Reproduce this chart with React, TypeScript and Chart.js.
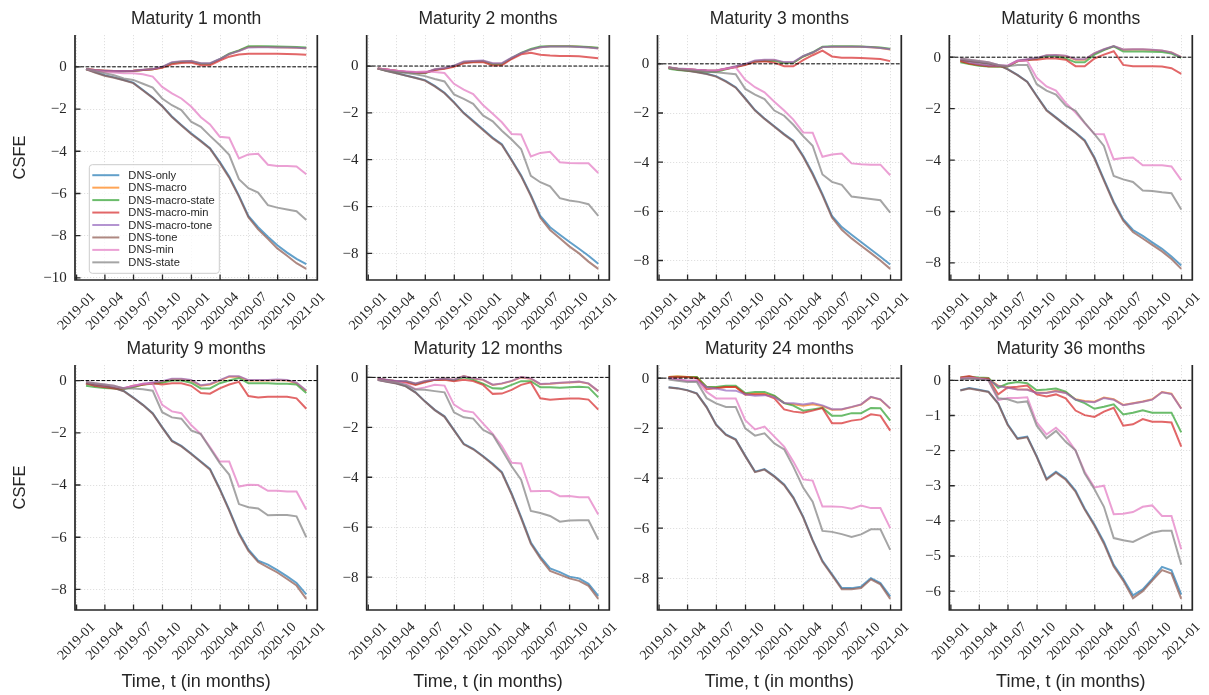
import React, { useEffect, useRef } from "react";
import { Chart, registerables } from "chart.js";

Chart.register(...registerables);

const W = 1209;
const H = 695;

// ---------- categories / labels ----------
const MONTHS = [
  "2019-01", "2019-02", "2019-03", "2019-04", "2019-05", "2019-06",
  "2019-07", "2019-08", "2019-09", "2019-10", "2019-11", "2019-12",
  "2020-01", "2020-02", "2020-03", "2020-04", "2020-05", "2020-06",
  "2020-07", "2020-08", "2020-09", "2020-10", "2020-11", "2020-12",
];
const X_TICK_LABELS = [
  "2019-01", "2019-04", "2019-07", "2019-10", "2020-01",
  "2020-04", "2020-07", "2020-10", "2021-01",
];
const SERIES_NAMES = [
  "DNS-only", "DNS-macro", "DNS-macro-state", "DNS-macro-min",
  "DNS-macro-tone", "DNS-tone", "DNS-min", "DNS-state",
];
const SERIES_COLORS = [
  "#1f77b4", "#ff7f0e", "#2ca02c", "#d62728",
  "#9467bd", "#8c564b", "#e377c2", "#7f7f7f",
];
const PANEL_TITLES = [
  "Maturity 1 month", "Maturity 2 months", "Maturity 3 months", "Maturity 6 months",
  "Maturity 9 months", "Maturity 12 months", "Maturity 24 months", "Maturity 36 months",
];
const Y_STEPS = [2, 2, 2, 2, 2, 2, 2, 1];

// ---------- data: maturity 1 month ----------
const M01_ONLY = [-0.1, -0.25, -0.4, -0.5, -0.62, -0.75, -1.1, -1.45, -1.85, -2.35, -2.75, -3.15, -3.5, -3.85, -4.5, -5.2, -6.1, -7.06, -7.6, -8.05, -8.45, -8.8, -9.1, -9.35];
const M01_MACRO = [-0.1, -0.15, -0.18, -0.2, -0.2, -0.19, -0.15, -0.12, -0.02, 0.2, 0.25, 0.27, 0.16, 0.15, 0.35, 0.6, 0.76, 0.94, 0.95, 0.94, 0.93, 0.92, 0.9, 0.88];
const M01_MACRO_STATE = [-0.12, -0.17, -0.2, -0.22, -0.22, -0.2, -0.15, -0.12, -0.02, 0.18, 0.23, 0.25, 0.15, 0.15, 0.36, 0.62, 0.78, 0.98, 0.98, 0.97, 0.96, 0.95, 0.94, 0.92];
const M01_MACRO_MIN = [-0.1, -0.15, -0.18, -0.2, -0.2, -0.19, -0.15, -0.12, -0.04, 0.12, 0.18, 0.2, 0.08, 0.08, 0.3, 0.48, 0.58, 0.62, 0.62, 0.62, 0.62, 0.61, 0.6, 0.57];
const M01_MACRO_TONE = [-0.1, -0.15, -0.18, -0.2, -0.2, -0.19, -0.14, -0.1, 0.0, 0.22, 0.27, 0.28, 0.17, 0.17, 0.37, 0.6, 0.75, 0.92, 0.93, 0.93, 0.92, 0.91, 0.9, 0.88];
const M01_TONE = [-0.12, -0.27, -0.42, -0.52, -0.64, -0.77, -1.12, -1.47, -1.87, -2.38, -2.78, -3.18, -3.53, -3.88, -4.55, -5.25, -6.15, -7.12, -7.7, -8.15, -8.6, -8.95, -9.3, -9.57];
const M01_MIN = [-0.1, -0.2, -0.25, -0.27, -0.3, -0.3, -0.35, -0.46, -0.95, -1.26, -1.5, -1.88, -2.39, -2.73, -3.31, -3.36, -4.34, -4.15, -4.12, -4.64, -4.7, -4.7, -4.72, -5.09];
const M01_STATE = [-0.1, -0.2, -0.3, -0.4, -0.55, -0.62, -0.8, -0.98, -1.5, -1.82, -2.05, -2.6, -2.84, -3.27, -3.7, -4.17, -5.32, -5.75, -5.96, -6.55, -6.67, -6.76, -6.84, -7.25];

// ---------- data: maturity 2 months ----------
const M02_ONLY = [-0.1, -0.2, -0.3, -0.4, -0.5, -0.6, -0.85, -1.14, -1.54, -2.0, -2.34, -2.7, -3.06, -3.34, -4.0, -4.66, -5.5, -6.4, -6.88, -7.2, -7.5, -7.8, -8.1, -8.44];
const M02_MACRO = [-0.1, -0.15, -0.2, -0.25, -0.28, -0.29, -0.15, -0.1, 0.0, 0.17, 0.2, 0.22, 0.1, 0.1, 0.34, 0.54, 0.7, 0.8, 0.84, 0.84, 0.84, 0.82, 0.8, 0.76];
const M02_MACRO_STATE = [-0.12, -0.17, -0.22, -0.27, -0.3, -0.31, -0.16, -0.1, 0.0, 0.15, 0.18, 0.2, 0.08, 0.08, 0.34, 0.56, 0.73, 0.83, 0.85, 0.85, 0.85, 0.83, 0.81, 0.78];
const M02_MACRO_MIN = [-0.1, -0.15, -0.2, -0.25, -0.28, -0.29, -0.17, -0.12, -0.03, 0.12, 0.16, 0.17, 0.02, 0.03, 0.3, 0.5, 0.57, 0.48, 0.45, 0.43, 0.43, 0.42, 0.38, 0.33];
const M02_MACRO_TONE = [-0.1, -0.15, -0.2, -0.24, -0.27, -0.28, -0.14, -0.08, 0.02, 0.19, 0.22, 0.24, 0.12, 0.12, 0.36, 0.55, 0.7, 0.8, 0.83, 0.83, 0.83, 0.81, 0.79, 0.75];
const M02_TONE = [-0.11, -0.21, -0.31, -0.41, -0.51, -0.62, -0.87, -1.16, -1.56, -2.02, -2.37, -2.73, -3.09, -3.37, -4.03, -4.7, -5.55, -6.48, -7.0, -7.35, -7.7, -8.0, -8.35, -8.66];
const M02_MIN = [-0.1, -0.15, -0.2, -0.22, -0.25, -0.23, -0.25, -0.3, -0.76, -1.01, -1.2, -1.66, -2.04, -2.4, -2.9, -2.92, -3.86, -3.71, -3.66, -4.11, -4.14, -4.15, -4.15, -4.57];
const M02_STATE = [-0.1, -0.2, -0.25, -0.3, -0.35, -0.43, -0.55, -0.66, -1.21, -1.4, -1.61, -2.11, -2.36, -2.76, -3.14, -3.54, -4.69, -4.96, -5.14, -5.64, -5.74, -5.8, -5.9, -6.4];

// ---------- data: maturity 3 months ----------
const M03_ONLY = [-0.15, -0.22, -0.27, -0.33, -0.4, -0.5, -0.7, -0.95, -1.4, -1.88, -2.22, -2.54, -2.86, -3.13, -3.74, -4.45, -5.3, -6.19, -6.64, -6.95, -7.25, -7.55, -7.85, -8.16];
const M03_MACRO = [-0.15, -0.2, -0.22, -0.25, -0.27, -0.28, -0.2, -0.12, -0.02, 0.12, 0.15, 0.15, 0.05, 0.05, 0.3, 0.45, 0.68, 0.7, 0.7, 0.7, 0.69, 0.67, 0.64, 0.58];
const M03_MACRO_STATE = [-0.2, -0.25, -0.28, -0.3, -0.32, -0.33, -0.22, -0.12, -0.03, 0.1, 0.13, 0.12, 0.03, 0.04, 0.3, 0.47, 0.7, 0.72, 0.72, 0.72, 0.71, 0.69, 0.66, 0.61];
const M03_MACRO_MIN = [-0.15, -0.2, -0.22, -0.25, -0.27, -0.28, -0.2, -0.13, -0.05, 0.08, 0.1, 0.05, -0.1, -0.1, 0.15, 0.35, 0.54, 0.3, 0.25, 0.25, 0.24, 0.22, 0.2, 0.11];
const M03_MACRO_TONE = [-0.14, -0.19, -0.21, -0.24, -0.26, -0.27, -0.19, -0.1, 0.0, 0.14, 0.17, 0.17, 0.07, 0.07, 0.32, 0.46, 0.68, 0.7, 0.7, 0.7, 0.69, 0.67, 0.64, 0.59];
const M03_TONE = [-0.16, -0.23, -0.28, -0.34, -0.41, -0.52, -0.72, -0.97, -1.42, -1.9, -2.24, -2.56, -2.88, -3.16, -3.78, -4.5, -5.35, -6.25, -6.75, -7.1, -7.4, -7.7, -8.0, -8.34];
const M03_MIN = [-0.15, -0.2, -0.22, -0.25, -0.28, -0.27, -0.2, -0.14, -0.65, -0.95, -1.16, -1.54, -1.9, -2.27, -2.79, -2.8, -3.78, -3.69, -3.65, -4.05, -4.08, -4.1, -4.1, -4.53];
const M03_STATE = [-0.15, -0.2, -0.25, -0.28, -0.32, -0.34, -0.38, -0.42, -1.02, -1.25, -1.43, -1.9, -2.11, -2.48, -2.94, -3.33, -4.5, -4.8, -4.92, -5.4, -5.45, -5.5, -5.55, -6.05];

// ---------- data: maturity 6 months ----------
const M06_ONLY = [-0.1, -0.15, -0.2, -0.25, -0.3, -0.46, -0.69, -0.95, -1.5, -2.05, -2.34, -2.64, -2.93, -3.23, -3.9, -4.75, -5.62, -6.3, -6.72, -6.95, -7.2, -7.45, -7.75, -8.1];
const M06_MACRO = [-0.15, -0.25, -0.3, -0.35, -0.35, -0.35, -0.15, -0.1, -0.05, 0.07, 0.08, 0.05, -0.1, -0.1, 0.15, 0.3, 0.42, 0.29, 0.3, 0.3, 0.28, 0.25, 0.18, 0.0];
const M06_MACRO_STATE = [-0.2, -0.27, -0.33, -0.36, -0.37, -0.36, -0.16, -0.11, -0.06, 0.05, 0.05, -0.05, -0.2, -0.2, 0.1, 0.28, 0.42, 0.22, 0.22, 0.22, 0.21, 0.2, 0.14, -0.02];
const M06_MACRO_MIN = [-0.15, -0.25, -0.3, -0.35, -0.35, -0.35, -0.15, -0.1, -0.1, -0.05, -0.05, -0.1, -0.35, -0.35, -0.05, 0.1, 0.23, -0.3, -0.35, -0.35, -0.35, -0.36, -0.43, -0.65];
const M06_MACRO_TONE = [-0.1, -0.2, -0.27, -0.32, -0.33, -0.33, -0.13, -0.08, -0.03, 0.08, 0.09, 0.06, -0.08, -0.08, 0.16, 0.31, 0.43, 0.3, 0.31, 0.31, 0.29, 0.26, 0.18, 0.0];
const M06_TONE = [-0.11, -0.16, -0.21, -0.26, -0.31, -0.47, -0.7, -0.96, -1.52, -2.07, -2.36, -2.66, -2.95, -3.26, -3.94, -4.8, -5.67, -6.36, -6.8, -7.05, -7.3, -7.55, -7.85, -8.23];
const M06_MIN = [-0.05, -0.1, -0.15, -0.2, -0.3, -0.33, -0.15, -0.15, -0.8, -1.14, -1.3, -1.78, -2.15, -2.56, -2.99, -3.0, -3.97, -3.92, -3.9, -4.2, -4.2, -4.2, -4.25, -4.78];
const M06_STATE = [-0.05, -0.1, -0.15, -0.2, -0.3, -0.35, -0.3, -0.3, -1.05, -1.3, -1.45, -1.89, -2.08, -2.54, -2.99, -3.45, -4.62, -4.75, -4.85, -5.18, -5.2, -5.25, -5.29, -5.92];

// ---------- data: maturity 9 months ----------
const M09_ONLY = [-0.1, -0.15, -0.19, -0.28, -0.4, -0.65, -0.93, -1.25, -1.78, -2.3, -2.5, -2.79, -3.1, -3.38, -4.14, -4.94, -5.83, -6.47, -6.9, -7.05, -7.26, -7.5, -7.75, -8.19];
const M09_MACRO = [-0.1, -0.2, -0.25, -0.28, -0.3, -0.25, -0.15, -0.1, -0.05, 0.05, 0.05, 0.0, -0.2, -0.15, 0.0, 0.15, 0.15, 0.0, 0.0, 0.0, 0.02, 0.0, -0.1, -0.4];
const M09_MACRO_STATE = [-0.2, -0.25, -0.28, -0.3, -0.32, -0.25, -0.15, -0.12, -0.08, 0.0, 0.0, -0.08, -0.3, -0.3, -0.1, 0.0, 0.1, -0.1, -0.1, -0.1, -0.12, -0.12, -0.15, -0.48];
const M09_MACRO_MIN = [-0.1, -0.2, -0.25, -0.3, -0.3, -0.2, -0.15, -0.1, -0.15, -0.1, -0.1, -0.2, -0.48, -0.5, -0.3, -0.15, -0.05, -0.59, -0.65, -0.62, -0.62, -0.62, -0.68, -1.08];
const M09_MACRO_TONE = [-0.08, -0.17, -0.22, -0.26, -0.28, -0.22, -0.12, -0.07, -0.02, 0.07, 0.07, 0.02, -0.18, -0.13, 0.02, 0.17, 0.17, 0.02, 0.02, 0.02, 0.04, 0.02, -0.08, -0.38];
const M09_TONE = [-0.11, -0.16, -0.2, -0.29, -0.41, -0.66, -0.94, -1.27, -1.8, -2.32, -2.52, -2.81, -3.12, -3.41, -4.17, -4.98, -5.88, -6.52, -6.95, -7.15, -7.35, -7.6, -7.85, -8.36];
const M09_MIN = [-0.05, -0.1, -0.15, -0.2, -0.3, -0.2, -0.12, -0.12, -0.93, -1.18, -1.25, -1.7, -2.05, -2.55, -3.1, -3.1, -4.06, -3.99, -4.0, -4.22, -4.22, -4.25, -4.25, -4.94];
const M09_STATE = [-0.05, -0.1, -0.15, -0.2, -0.3, -0.3, -0.33, -0.39, -1.21, -1.41, -1.46, -1.91, -2.05, -2.59, -3.16, -3.6, -4.73, -4.85, -4.9, -5.16, -5.15, -5.15, -5.2, -6.0];

// ---------- data: maturity 12 months ----------
const M12_ONLY = [-0.1, -0.17, -0.24, -0.35, -0.6, -0.96, -1.3, -1.56, -2.1, -2.66, -2.86, -3.15, -3.46, -3.79, -4.65, -5.59, -6.61, -7.18, -7.65, -7.8, -7.98, -8.05, -8.27, -8.75];
const M12_MACRO = [-0.05, -0.1, -0.15, -0.15, -0.25, -0.15, -0.1, -0.05, -0.1, 0.05, -0.05, -0.1, -0.3, -0.25, -0.15, 0.0, -0.05, -0.27, -0.25, -0.22, -0.2, -0.18, -0.25, -0.55];
const M12_MACRO_STATE = [-0.05, -0.1, -0.15, -0.15, -0.27, -0.17, -0.1, -0.07, -0.12, 0.0, -0.1, -0.25, -0.44, -0.45, -0.3, -0.15, -0.15, -0.4, -0.4, -0.42, -0.4, -0.38, -0.4, -0.8];
const M12_MACRO_MIN = [-0.05, -0.1, -0.15, -0.2, -0.3, -0.2, -0.1, -0.1, -0.15, -0.1, -0.15, -0.3, -0.66, -0.65, -0.5, -0.3, -0.2, -0.84, -0.9, -0.87, -0.85, -0.85, -0.89, -1.29];
const M12_MACRO_TONE = [-0.04, -0.09, -0.14, -0.14, -0.24, -0.14, -0.09, -0.04, -0.09, 0.05, -0.04, -0.09, -0.29, -0.24, -0.14, 0.01, -0.04, -0.26, -0.24, -0.21, -0.19, -0.17, -0.24, -0.55];
const M12_TONE = [-0.11, -0.18, -0.25, -0.36, -0.61, -0.97, -1.31, -1.58, -2.12, -2.68, -2.88, -3.17, -3.49, -3.82, -4.69, -5.64, -6.66, -7.25, -7.75, -7.9, -8.05, -8.15, -8.35, -8.87];
const M12_MIN = [-0.1, -0.15, -0.2, -0.25, -0.47, -0.4, -0.3, -0.33, -1.09, -1.34, -1.4, -1.84, -2.26, -2.75, -3.42, -3.45, -4.56, -4.55, -4.55, -4.76, -4.75, -4.8, -4.8, -5.49];
const M12_STATE = [-0.1, -0.15, -0.2, -0.3, -0.49, -0.5, -0.55, -0.6, -1.4, -1.6, -1.65, -2.1, -2.3, -2.9, -3.56, -4.1, -5.35, -5.43, -5.55, -5.78, -5.73, -5.72, -5.72, -6.49];

// ---------- data: maturity 24 months ----------
const M24_ONLY = [-0.36, -0.4, -0.48, -0.61, -1.15, -1.85, -2.25, -2.45, -3.1, -3.74, -3.64, -3.92, -4.25, -4.77, -5.54, -6.47, -7.31, -7.84, -8.4, -8.4, -8.34, -8.0, -8.2, -8.73];
const M24_MACRO = [0.05, 0.08, 0.05, 0.05, -0.35, -0.38, -0.35, -0.35, -0.65, -0.62, -0.62, -0.72, -1.0, -1.05, -1.1, -1.05, -1.12, -1.26, -1.25, -1.16, -1.06, -0.76, -0.86, -1.22];
const M24_MACRO_STATE = [0.05, 0.06, 0.05, 0.05, -0.35, -0.35, -0.3, -0.3, -0.6, -0.55, -0.55, -0.7, -1.0, -1.1, -1.3, -1.25, -1.19, -1.5, -1.5, -1.4, -1.4, -1.19, -1.2, -1.7];
const M24_MACRO_MIN = [0.05, 0.05, 0.05, 0.0, -0.44, -0.4, -0.35, -0.35, -0.65, -0.65, -0.65, -0.81, -1.25, -1.34, -1.38, -1.3, -1.2, -1.8, -1.8, -1.7, -1.65, -1.45, -1.5, -2.1];
const M24_MACRO_TONE = [0.0, -0.05, -0.1, -0.1, -0.36, -0.42, -0.49, -0.5, -0.65, -0.7, -0.68, -0.75, -0.99, -1.0, -1.05, -1.0, -1.09, -1.24, -1.24, -1.15, -1.05, -0.75, -0.85, -1.21];
const M24_TONE = [-0.37, -0.41, -0.49, -0.62, -1.17, -1.87, -2.27, -2.47, -3.12, -3.76, -3.66, -3.94, -4.28, -4.8, -5.57, -6.5, -7.35, -7.88, -8.45, -8.45, -8.4, -8.05, -8.25, -8.83];
const M24_MIN = [0.0, -0.05, -0.1, -0.1, -0.55, -0.81, -0.81, -0.81, -1.68, -2.05, -1.94, -2.34, -2.74, -3.34, -4.05, -4.1, -5.14, -5.14, -5.15, -5.22, -5.1, -5.2, -5.2, -6.0];
const M24_STATE = [-0.05, -0.1, -0.15, -0.15, -0.8, -1.01, -1.15, -1.15, -2.01, -2.3, -2.21, -2.61, -2.85, -3.54, -4.38, -4.94, -6.11, -6.15, -6.24, -6.35, -6.25, -6.05, -6.05, -6.87];

// ---------- data: maturity 36 months ----------
const M36_ONLY = [-0.28, -0.22, -0.27, -0.32, -0.65, -1.25, -1.65, -1.6, -2.16, -2.8, -2.6, -2.8, -3.14, -3.65, -4.1, -4.6, -5.25, -5.65, -6.12, -5.95, -5.65, -5.31, -5.41, -6.1];
const M36_MACRO = [0.05, 0.08, 0.05, 0.03, -0.15, -0.2, -0.25, -0.26, -0.35, -0.35, -0.3, -0.35, -0.54, -0.59, -0.61, -0.49, -0.54, -0.7, -0.65, -0.6, -0.54, -0.33, -0.38, -0.8];
const M36_MACRO_STATE = [0.08, 0.1, 0.08, 0.07, -0.21, -0.09, -0.05, -0.08, -0.28, -0.26, -0.23, -0.32, -0.55, -0.65, -0.81, -0.75, -0.68, -0.97, -0.92, -0.85, -0.92, -0.92, -0.92, -1.48];
const M36_MACRO_MIN = [0.08, 0.12, 0.05, 0.05, -0.4, -0.2, -0.18, -0.15, -0.4, -0.46, -0.4, -0.51, -0.86, -0.99, -1.04, -0.89, -0.78, -1.29, -1.25, -1.1, -1.18, -1.18, -1.2, -1.89];
const M36_MACRO_TONE = [0.04, 0.07, 0.04, 0.02, -0.16, -0.21, -0.26, -0.27, -0.36, -0.36, -0.31, -0.36, -0.55, -0.6, -0.62, -0.5, -0.55, -0.71, -0.66, -0.61, -0.55, -0.34, -0.39, -0.81];
const M36_TONE = [-0.29, -0.23, -0.28, -0.33, -0.67, -1.27, -1.67, -1.62, -2.18, -2.83, -2.63, -2.83, -3.17, -3.68, -4.14, -4.65, -5.3, -5.7, -6.2, -6.0, -5.7, -5.4, -5.5, -6.22];
const M36_MIN = [0.05, 0.07, 0.05, 0.0, -0.56, -0.5, -0.5, -0.48, -1.2, -1.54, -1.35, -1.6, -2.0, -2.6, -3.05, -3.0, -3.81, -3.8, -3.75, -3.6, -3.56, -3.86, -3.86, -4.81];
const M36_STATE = [0.03, 0.05, 0.03, 0.0, -0.51, -0.54, -0.63, -0.6, -1.29, -1.65, -1.44, -1.75, -1.99, -2.65, -3.1, -3.6, -4.49, -4.55, -4.6, -4.46, -4.34, -4.28, -4.28, -5.25];

const PANEL_SERIES: number[][][] = [
  [M01_ONLY, M01_MACRO, M01_MACRO_STATE, M01_MACRO_MIN, M01_MACRO_TONE, M01_TONE, M01_MIN, M01_STATE],
  [M02_ONLY, M02_MACRO, M02_MACRO_STATE, M02_MACRO_MIN, M02_MACRO_TONE, M02_TONE, M02_MIN, M02_STATE],
  [M03_ONLY, M03_MACRO, M03_MACRO_STATE, M03_MACRO_MIN, M03_MACRO_TONE, M03_TONE, M03_MIN, M03_STATE],
  [M06_ONLY, M06_MACRO, M06_MACRO_STATE, M06_MACRO_MIN, M06_MACRO_TONE, M06_TONE, M06_MIN, M06_STATE],
  [M09_ONLY, M09_MACRO, M09_MACRO_STATE, M09_MACRO_MIN, M09_MACRO_TONE, M09_TONE, M09_MIN, M09_STATE],
  [M12_ONLY, M12_MACRO, M12_MACRO_STATE, M12_MACRO_MIN, M12_MACRO_TONE, M12_TONE, M12_MIN, M12_STATE],
  [M24_ONLY, M24_MACRO, M24_MACRO_STATE, M24_MACRO_MIN, M24_MACRO_TONE, M24_TONE, M24_MIN, M24_STATE],
  [M36_ONLY, M36_MACRO, M36_MACRO_STATE, M36_MACRO_MIN, M36_MACRO_TONE, M36_TONE, M36_MIN, M36_STATE],
];

// ---------- layout (page pixels) ----------
const COL_LEFT = [75, 366.7, 657.5, 949.3];
const COL_RIGHT = [317.3, 609.3, 901.3, 1192.3];
const ROW_TOP = [35, 365];
const ROW_BOTTOM = [280, 610];

const TEXT_COLOR = "#262626";
const SANS = '"Liberation Sans", Arial, sans-serif';
const SERIF = '"Liberation Serif", "Times New Roman", serif';

const BASE = Date.UTC(2019, 0, 1);
const DAY = 86400000;
const monthEndDay = (s: string) => {
  const [y, m] = s.split("-").map(Number);
  return (Date.UTC(y, m, 0) - BASE) / DAY;
};
const monthStartDay = (s: string) => {
  const [y, m] = s.split("-").map(Number);
  return (Date.UTC(y, m - 1, 1) - BASE) / DAY;
};

const rgba = (hex: string, a: number) => {
  const n = parseInt(hex.slice(1), 16);
  return `rgba(${(n >> 16) & 255},${(n >> 8) & 255},${n & 255},${a})`;
};

const fmtY = (v: number) => {
  if (Math.abs(v) < 1e-9) return "0";
  return v < 0 ? "\u2212" + String(Math.abs(v)) : String(v);
};

function makeChart(canvas: HTMLCanvasElement, idx: number) {
  const row = Math.floor(idx / 4);
  const col = idx % 4;
  const series = PANEL_SERIES[idx];
  const xs = MONTHS.map(monthEndDay);
  const xTicks = X_TICK_LABELS.map(monthStartDay);
  const xRange = xs[xs.length - 1] - xs[0];
  const xMin = xs[0] - 0.05 * xRange;
  const xMax = xs[xs.length - 1] + 0.05 * xRange;

  let lo = Infinity;
  let hi = -Infinity;
  series.forEach((s) => s.forEach((v) => { lo = Math.min(lo, v); hi = Math.max(hi, v); }));
  const yr = hi - lo;
  const yMin = lo - 0.05 * yr;
  const yMax = hi + 0.05 * yr;
  const step = Y_STEPS[idx];
  const yTicks: number[] = [];
  for (let v = Math.ceil(yMin / step) * step; v <= yMax + 1e-9; v += step) yTicks.push(Math.round(v * 1000) / 1000);

  const datasets = series.map((vals, i) => ({
    label: SERIES_NAMES[i],
    data: vals.map((v, j) => ({ x: xs[j], y: v })),
    borderColor: rgba(SERIES_COLORS[i], 0.7),
    backgroundColor: rgba(SERIES_COLORS[i], 0.7),
    borderWidth: 2,
    pointRadius: 0,
    pointHoverRadius: 0,
    tension: 0,
    fill: false,
    order: SERIES_NAMES.length - 1 - i,
  }));

  const panelPlugin = {
    id: "panelDecor" + idx,
    afterDraw(chart: any) {
      const ctx: CanvasRenderingContext2D = chart.ctx;
      const { left, right, top, bottom } = chart.chartArea;
      const sx = chart.scales.x;
      const sy = chart.scales.y;
      ctx.save();

      // zero reference line
      const y0 = sy.getPixelForValue(0);
      ctx.strokeStyle = "#000000";
      ctx.lineWidth = 1;
      ctx.setLineDash([3.7, 1.6]);
      ctx.beginPath();
      ctx.moveTo(left, y0);
      ctx.lineTo(right, y0);
      ctx.stroke();
      ctx.setLineDash([]);

      // spines
      ctx.strokeStyle = TEXT_COLOR;
      ctx.lineWidth = 1.7;
      ctx.beginPath();
      ctx.moveTo(left, top);
      ctx.lineTo(left, bottom);
      ctx.lineTo(right, bottom);
      ctx.lineTo(right, top);
      ctx.stroke();

      // inward ticks
      ctx.lineWidth = 1.3;
      ctx.beginPath();
      xTicks.forEach((v) => {
        const px = sx.getPixelForValue(v);
        ctx.moveTo(px, bottom);
        ctx.lineTo(px, bottom - 5.5);
      });
      yTicks.forEach((v) => {
        const py = sy.getPixelForValue(v);
        ctx.moveTo(left, py);
        ctx.lineTo(left + 5.5, py);
      });
      ctx.stroke();

      // y tick labels
      ctx.fillStyle = TEXT_COLOR;
      ctx.font = `15px ${SERIF}`;
      ctx.textAlign = "right";
      ctx.textBaseline = "middle";
      yTicks.forEach((v) => {
        ctx.fillText(fmtY(v), left - 8.3, sy.getPixelForValue(v) + 0.5);
      });

      // x tick labels, rotated 45 degrees and centred under the tick
      ctx.font = `14px ${SERIF}`;
      ctx.textAlign = "center";
      ctx.textBaseline = "middle";
      xTicks.forEach((v, k) => {
        const px = sx.getPixelForValue(v);
        ctx.save();
        ctx.translate(px, bottom + 31.5);
        ctx.rotate(-Math.PI / 4);
        ctx.fillText(X_TICK_LABELS[k], 0, 0);
        ctx.restore();
      });

      // title
      ctx.font = `17.5px ${SANS}`;
      ctx.textAlign = "center";
      ctx.textBaseline = "alphabetic";
      ctx.fillText(PANEL_TITLES[idx], (left + right) / 2, top - 11);

      // y axis label
      if (col === 0) {
        ctx.save();
        ctx.font = `16.5px ${SANS}`;
        ctx.translate(25, (top + bottom) / 2);
        ctx.rotate(-Math.PI / 2);
        ctx.textAlign = "center";
        ctx.textBaseline = "alphabetic";
        ctx.fillText("CSFE", 0, 0);
        ctx.restore();
      }

      // x axis label
      if (row === 1) {
        ctx.font = `18px ${SANS}`;
        ctx.textAlign = "center";
        ctx.textBaseline = "alphabetic";
        ctx.fillText("Time, t (in months)", (left + right) / 2, bottom + 76.5);
      }

      // legend (first panel only)
      if (idx === 0) {
        const bx = left + 14.3;
        const by = top + 129.7;
        const bw = 130;
        const bh = 108.6;
        const r = 3;
        ctx.beginPath();
        ctx.moveTo(bx + r, by);
        ctx.lineTo(bx + bw - r, by);
        ctx.arcTo(bx + bw, by, bx + bw, by + r, r);
        ctx.lineTo(bx + bw, by + bh - r);
        ctx.arcTo(bx + bw, by + bh, bx + bw - r, by + bh, r);
        ctx.lineTo(bx + r, by + bh);
        ctx.arcTo(bx, by + bh, bx, by + bh - r, r);
        ctx.lineTo(bx, by + r);
        ctx.arcTo(bx, by, bx + r, by, r);
        ctx.closePath();
        ctx.fillStyle = "rgba(255,255,255,0.8)";
        ctx.fill();
        ctx.strokeStyle = "#cccccc";
        ctx.lineWidth = 1;
        ctx.stroke();

        ctx.font = `11.2px ${SANS}`;
        ctx.textAlign = "left";
        ctx.textBaseline = "middle";
        SERIES_NAMES.forEach((name, i) => {
          const ly = by + 10.5 + i * 12.45;
          ctx.strokeStyle = rgba(SERIES_COLORS[i], 0.7);
          ctx.lineWidth = 2;
          ctx.beginPath();
          ctx.moveTo(bx + 3, ly);
          ctx.lineTo(bx + 30, ly);
          ctx.stroke();
          ctx.fillStyle = TEXT_COLOR;
          ctx.fillText(name, bx + 39, ly + 0.5);
        });
      }

      ctx.restore();
    },
  };

  return new Chart(canvas, {
    type: "line",
    data: { datasets } as any,
    plugins: [panelPlugin],
    options: {
      responsive: false,
      animation: false,
      devicePixelRatio: 1,
      events: [],
      layout: {
        padding: {
          left: COL_LEFT[col],
          right: W - COL_RIGHT[col],
          top: ROW_TOP[row],
          bottom: H - ROW_BOTTOM[row],
        },
      },
      plugins: {
        legend: { display: false },
        title: { display: false },
        tooltip: { enabled: false },
      },
      scales: {
        x: {
          type: "linear",
          min: xMin,
          max: xMax,
          afterBuildTicks: (scale: any) => {
            scale.ticks = xTicks.map((v) => ({ value: v }));
          },
          afterFit: (scale: any) => {
            scale.height = 0;
          },
          ticks: { display: false },
          grid: { color: "#d8d8d8", lineWidth: 0.8, drawTicks: false },
          border: { display: false, dash: [1.2, 1.8] },
        },
        y: {
          type: "linear",
          min: yMin,
          max: yMax,
          afterBuildTicks: (scale: any) => {
            scale.ticks = yTicks.map((v) => ({ value: v }));
          },
          afterFit: (scale: any) => {
            scale.width = 0;
          },
          ticks: { display: false },
          grid: { color: "#d8d8d8", lineWidth: 0.8, drawTicks: false },
          border: { display: false, dash: [1.2, 1.8] },
        },
      },
    } as any,
  });
}

export default function App() {
  const refs = useRef<(HTMLCanvasElement | null)[]>([]);

  useEffect(() => {
    document.body.style.margin = "0";
    const charts = refs.current.map((c, i) => (c ? makeChart(c, i) : null));
    return () => {
      charts.forEach((c) => c && c.destroy());
    };
  }, []);

  return (
    <div
      style={{
        position: "absolute",
        left: 0,
        top: 0,
        width: W,
        height: H,
        overflow: "hidden",
        background: "#ffffff",
      }}
    >
      {PANEL_TITLES.map((t, i) => (
        <canvas
          key={t}
          ref={(el) => {
            refs.current[i] = el;
          }}
          width={W}
          height={H}
          style={{ position: "absolute", left: 0, top: 0, width: W, height: H }}
        />
      ))}
    </div>
  );
}
